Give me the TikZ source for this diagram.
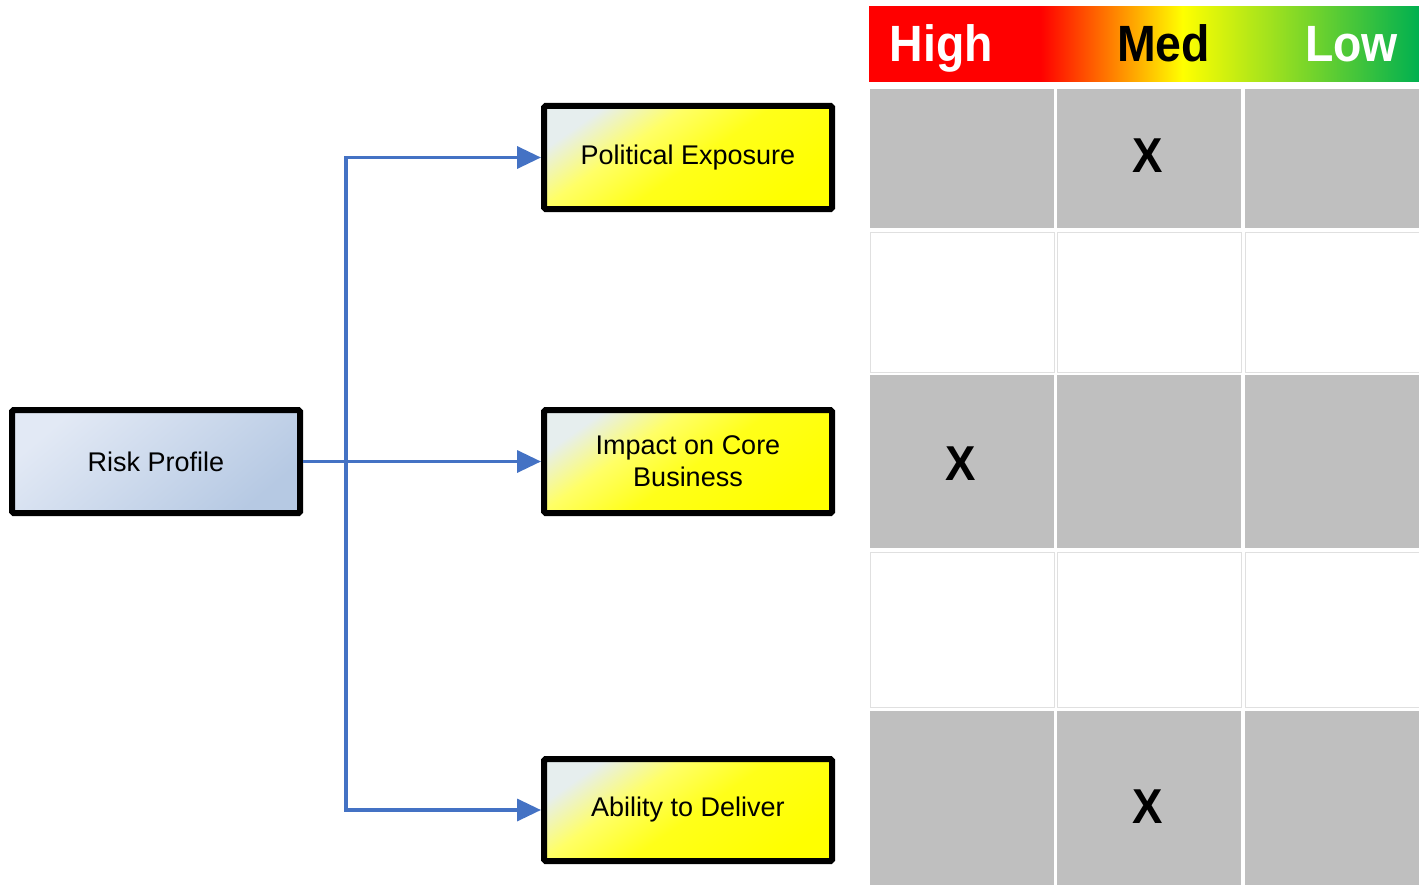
\documentclass[tikz,border=0pt]{standalone}
\usepackage{fontspec}
\usepackage{graphicx}
\setmainfont{Liberation Sans}
\usetikzlibrary{arrows.meta}
\definecolor{connblue}{HTML}{4472C4}
\definecolor{cellgray}{RGB}{191,191,191}
\definecolor{lowgreen}{RGB}{0,176,80}
\definecolor{palecorner}{HTML}{E6EEEE}
\definecolor{bluelight}{HTML}{E2E9F5}
\definecolor{bluedark}{HTML}{B6C9E3}
\pgfdeclarehorizontalshading{riskbar}{100bp}{color(0bp)=(red); color(25bp)=(red); color(40.6bp)=(red); color(53.5bp)=(yellow); color(75bp)=(lowgreen); color(100bp)=(lowgreen)}
\pgfdeclareverticalshading{yellowfade}{100bp}{color(0bp)=(yellow); color(25bp)=(yellow); color(48bp)=(yellow!90!white); color(62bp)=(yellow!60!white); color(75bp)=(palecorner); color(100bp)=(palecorner)}
\tikzset{
  boxbase/.style={draw=black, line width=6pt, rounded corners=1.5pt, rectangle,
    minimum width=288pt, minimum height=103pt, align=center,
    font=\fontsize{27}{32}\selectfont, inner sep=0pt},
  yellowbox/.style={boxbase, shading=yellowfade, shading angle=35},
  bluebox/.style={boxbase, top color=bluelight, bottom color=bluedark, shading angle=40},
  conn/.style={draw=connblue, line width=3.5pt},
  arr/.style={conn, -{Triangle[length=24pt,width=22pt]}},
  headtxt/.style={anchor=base, inner sep=0pt, font=\fontsize{51}{51}\selectfont\bfseries},
  xmark/.style={inner sep=0pt, font=\fontsize{49}{49}\selectfont\bfseries},
  graycell/.style={fill=cellgray},
  whitecell/.style={fill=white, draw=black!12, line width=1pt}
}
\begin{document}
\begin{tikzpicture}[x=1pt, y=-1pt]
\useasboundingbox (0,0) rectangle (1419,888);
\fill[white] (0,0) rectangle (1419,888);

% header gradient bar
\shade[shading=riskbar] (869,6.5) rectangle (1419,81.5);
\node[headtxt, text=white] (hhigh) at (941.5,62) {\scalebox{0.91}[1]{High}};
\node[headtxt, text=black] (hmed) at (1163.5,62) {\scalebox{0.91}[1]{Med}};
\node[headtxt, text=white] (hlow) at (1351.5,62) {\scalebox{0.91}[1]{Low}};

% grid cells
\foreach \ya/\yb/\st in {89/228/graycell, 232/372/whitecell, 375/548/graycell, 552/707/whitecell, 711/885/graycell}{
  \path[\st] (870,\ya) rectangle (1054,\yb);
  \path[\st] (1057,\ya) rectangle (1241,\yb);
  \path[\st] (1245,\ya) rectangle (1420,\yb);
}
\node[xmark] (x1) at (1148,156) {\scalebox{0.93}[1]{X}};
\node[xmark] (x2) at (961,463.5) {\scalebox{0.93}[1]{X}};
\node[xmark] (x3) at (1148,807) {\scalebox{0.93}[1]{X}};

% boxes
\node[bluebox] (rp) at (156,461.5) {Risk Profile};
\node[yellowbox] (pol) at (688,157.5) {Political Exposure};
\node[yellowbox] (imp) at (688,461.5) {Impact on Core\\Business};
\node[yellowbox, minimum height=102pt] (abl) at (688,810) {Ability to Deliver};

% connectors
\coordinate (j) at (346,461.5);
\draw[arr] (rp.east) -- (imp.west);
\draw[arr] (j) |- (pol.west);
\draw[arr] (j) |- (abl.west);
\end{tikzpicture}
\end{document}
